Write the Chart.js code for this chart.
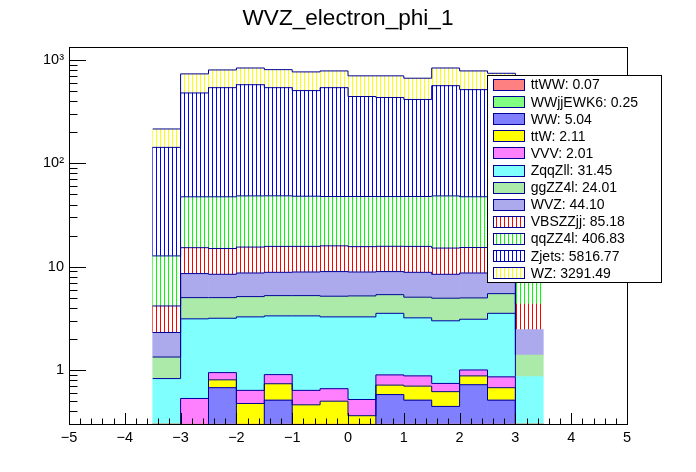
<!DOCTYPE html>
<html>
<head>
<meta charset="utf-8">
<script src="https://cdn.jsdelivr.net/npm/chart.js@4.4.1/dist/chart.umd.min.js"></script>
<style>
  html, body { margin: 0; padding: 0; background: #fff; }
  #wrap { width: 696px; height: 472px; }
</style>
</head>
<body>
<div id="wrap"><canvas id="c" width="696" height="472"></canvas></div>
<script>
// phi bins of width 0.5, only -3.5..3.5 are filled
const binCenters = [-3.25, -2.75, -2.25, -1.75, -1.25, -0.75, -0.25, 0.25, 0.75, 1.25, 1.75, 2.25, 2.75, 3.25];

// samples, bottom of the stack first (same order as the legend)
const names = ['ttWW', 'WWjjEWK6', 'WW', 'ttW', 'VVV', 'ZqqZll', 'ggZZ4l', 'WVZ', 'VBSZZjj', 'qqZZ4l', 'Zjets', 'WZ'];
const totals = [0.07, 0.25, 5.04, 2.11, 2.01, 31.45, 24.01, 44.10, 85.18, 406.83, 5816.77, 3291.49];

// events per bin
const ttWW    = [0, 0.006, 0.006, 0.006, 0.006, 0.006, 0.006, 0.006, 0.006, 0.006, 0.006, 0.006, 0.006, 0];
const wwjj    = [0.005, 0.02, 0.02, 0.02, 0.02, 0.02, 0.02, 0.02, 0.02, 0.02, 0.02, 0.02, 0.02, 0.005];
const ww      = [0, 0.094, 0.648, 0.214, 0.484, 0.224, 0.244, 0.164, 0.552, 0.484, 0.418, 0.694, 0.484, 0];
const ttW     = [0, 0.15, 0.129, 0.234, 0.226, 0.21, 0.229, 0.171, 0.136, 0.188, 0.173, 0.157, 0.164, 0];
const vvv     = [0, 0.26, 0.14, 0.161, 0.166, 0.175, 0.16, 0.157, 0.182, 0.179, 0.124, 0.123, 0.184, 0];
const zqqzll  = [0.821, 2.598, 2.227, 2.633, 2.439, 2.706, 2.609, 2.75, 2.641, 2.321, 2.253, 2.10, 2.679, 0.858];
const ggzz    = [0.509, 1.892, 1.85, 1.867, 1.907, 1.907, 1.911, 1.946, 1.826, 1.87, 1.962, 1.889, 1.946, 0.531];
const wvz     = [0.971, 3.557, 3.427, 3.555, 3.578, 3.636, 3.784, 3.67, 3.60, 3.758, 3.491, 3.701, 3.207, 1.068];
const vbszz   = [1.86, 6.70, 6.55, 6.80, 6.90, 6.85, 6.95, 6.75, 6.80, 6.90, 6.70, 6.65, 6.95, 1.89];
const qqzz    = [8.55, 32.2, 32.5, 33.0, 32.8, 32.4, 31.9, 32.2, 32.0, 32.1, 33.3, 32.2, 31.9, 8.55];
const zjets   = [130.2, 433.3, 493.6, 529.5, 492.6, 458.6, 493.3, 396.4, 386.8, 368.1, 516.9, 470.4, 470.4, 175];
const wz      = [72.5, 254.8, 262.0, 260.9, 267.3, 261.9, 244.6, 259.9, 269.5, 252.2, 273.5, 267.8, 227.5, 100];

const series = [ttWW, wwjj, ww, ttW, vvv, zqqzll, ggzz, wvz, vbszz, qqzz, zjets, wz];

// axis ticks
const xTickVals = [-5, -4, -3, -2, -1, 0, 1, 2, 3, 4, 5];
const xTickLabels = ['\u22125', '\u22124', '\u22123', '\u22122', '\u22121', '0', '1', '2', '3', '4', '5'];
const yTickVals = [1, 10, 100, 1000];
const yTickLabels = ['1', '10', '10\u00b2', '10\u00b3'];

const canvas = document.getElementById('c');
const ctx = canvas.getContext('2d');
const lineColor = '#000099';
const font = '"Liberation Sans", Arial, sans-serif';

// vertical hatch (ROOT style), 1px line every 4px
function vlines(rgb) {
  const t = document.createElement('canvas');
  t.width = 8; t.height = 8;
  const g = t.getContext('2d');
  g.fillStyle = '#fff';
  g.fillRect(0, 0, 8, 8);
  g.fillStyle = 'rgb(' + rgb.join(',') + ')';
  g.fillRect(0, 0, 1, 8);
  g.fillRect(4, 0, 1, 8);
  return ctx.createPattern(t, 'repeat');
}
// the fine dotted ROOT fills look like the colour half mixed with white
function dotted(rgb) {
  return 'rgb(' + rgb.map(v => Math.round((v + 255) / 2)).join(',') + ')';
}

const fills = [
  dotted([255, 0, 0]), dotted([0, 255, 0]), dotted([0, 0, 255]), '#ffff00',
  dotted([255, 0, 255]), dotted([0, 255, 255]), dotted([89, 212, 84]), dotted([89, 84, 216]),
  vlines([255, 0, 0]), vlines([0, 255, 0]), vlines([0, 0, 255]), vlines([255, 255, 0])
];

// bars
const datasets = series.map((vals, k) => ({
  type: 'bar',
  label: names[k],
  data: vals.map((v, i) => ({ x: binCenters[i], y: v })),
  backgroundColor: fills[k],
  borderWidth: 0,
  barPercentage: 1,
  categoryPercentage: 1,
  stack: 'mc',
  order: 1,
  clip: 0
}));

// histogram outlines of the running sums
let running = binCenters.map(() => 0);
series.forEach((vals, k) => {
  running = running.map((r, i) => r + vals[i]);
  const pts = [{ x: binCenters[0] - 0.25, y: 0 }];
  running.forEach((r, i) => pts.push({ x: binCenters[i] - 0.25, y: r }));
  pts.push({ x: binCenters[binCenters.length - 1] + 0.25, y: 0 });
  datasets.push({
    type: 'line',
    label: names[k] + ' outline',
    data: pts,
    borderColor: lineColor,
    borderWidth: 1,
    pointRadius: 0,
    fill: false,
    stepped: true,
    stack: 'outline' + k,
    order: 0,
    clip: 0
  });
});

// frame and inside ticks
const frameAxes = {
  id: 'frameAxes',
  afterDatasetsDraw(chart) {
    const c = chart.ctx, a = chart.chartArea, x = chart.scales.x, y = chart.scales.y;
    c.save();
    c.strokeStyle = '#000';
    c.lineWidth = 1;
    c.beginPath();
    for (let i = 0; i <= 50; i++) {
      const px = Math.round(x.getPixelForValue(-5 + i * 0.2)) + 0.5;
      const len = i % 5 === 0 ? 11 : 5.5;
      c.moveTo(px, a.bottom);
      c.lineTo(px, a.bottom - len);
    }
    for (let e = -1; e <= 3; e++) {
      for (let m = 1; m <= 9; m++) {
        const v = m * Math.pow(10, e);
        if (v < y.min || v > y.max) continue;
        const py = Math.round(y.getPixelForValue(v)) + 0.5;
        c.moveTo(a.left, py);
        c.lineTo(a.left + (m === 1 ? 17 : 8.5), py);
      }
    }
    c.stroke();
    c.strokeRect(Math.round(a.left) + 0.5, Math.round(a.top) + 0.5,
      Math.round(a.right - a.left), Math.round(a.bottom - a.top));
    c.restore();
  }
};

// legend box inside the pad
const boxLegend = {
  id: 'boxLegend',
  afterDraw(chart) {
    const c = chart.ctx;
    c.save();
    c.fillStyle = '#fff';
    c.fillRect(487.5, 75.5, 174, 207);
    c.strokeStyle = '#000';
    c.lineWidth = 1;
    c.strokeRect(487.5, 75.5, 174, 207);
    c.font = '14px ' + font;
    c.textBaseline = 'alphabetic';
    names.forEach((n, i) => {
      const top = Math.round(84.8 + i * 17.11 - 5.8);
      c.fillStyle = fills[i];
      c.fillRect(493, top, 31, 12);
      c.strokeStyle = lineColor;
      c.strokeRect(493.5, top + 0.5, 31, 11);
      c.fillStyle = '#000';
      c.fillText(n + ': ' + totals[i].toFixed(2), 530.7, 84.8 + i * 17.11 + 4.6);
    });
    c.restore();
  }
};

new Chart(canvas, {
  data: { datasets: datasets },
  options: {
    responsive: false,
    devicePixelRatio: 1,
    animation: false,
    layout: { padding: 0 },
    plugins: {
      legend: { display: false },
      tooltip: { enabled: false },
      title: {
        display: true,
        text: 'WVZ_electron_phi_1',
        color: '#000',
        font: { family: font, size: 22.6, weight: 'normal' },
        padding: { top: 5, bottom: 15.2 }
      }
    },
    scales: {
      x: {
        type: 'linear',
        min: -5,
        max: 5,
        offset: false,
        stacked: true,
        grid: { display: false, drawTicks: false },
        border: { display: false },
        afterBuildTicks: s => { s.ticks = xTickVals.map(v => ({ value: v })); },
        afterFit: s => { s.height = 48; },
        ticks: {
          autoSkip: false,
          maxRotation: 0,
          padding: 5,
          color: '#000',
          font: { family: font, size: 14.5 },
          callback: (v, i) => xTickLabels[i]
        }
      },
      y: {
        type: 'logarithmic',
        min: 0.344,
        max: 1330,
        stacked: true,
        grid: { display: false, drawTicks: false },
        border: { display: false },
        afterBuildTicks: s => { s.ticks = yTickVals.map(v => ({ value: v })); },
        afterFit: s => { s.width = 69; },
        ticks: {
          autoSkip: false,
          padding: 5,
          color: '#000',
          font: { family: font, size: 14.5 },
          callback: (v, i) => yTickLabels[i]
        }
      },
      // empty right margin so the frame stops where the pad margin starts
      yRight: {
        type: 'linear',
        position: 'right',
        display: true,
        grid: { display: false, drawTicks: false },
        border: { display: false },
        ticks: { display: false },
        afterFit: s => { s.width = 69; }
      }
    }
  },
  plugins: [frameAxes, boxLegend]
});
</script>
</body>
</html>
